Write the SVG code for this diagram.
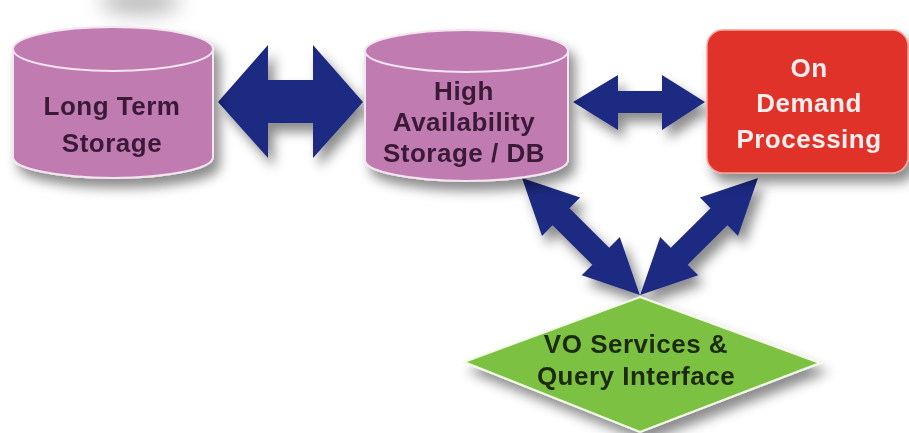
<svg xmlns="http://www.w3.org/2000/svg" width="909" height="433" viewBox="0 0 909 433">
  <defs>
    <filter id="sh" x="-20%" y="-20%" width="150%" height="160%">
      <feDropShadow dx="6" dy="9" stdDeviation="6" flood-color="#000" flood-opacity="0.45"/>
    </filter>
    <filter id="blur" x="-50%" y="-50%" width="200%" height="200%">
      <feGaussianBlur stdDeviation="10"/>
    </filter>
  </defs>
  <style>
    .cyl { fill: #c07cb1; stroke: #f4e4f0; stroke-width: 2; }
    .lbl { font-family: "Liberation Sans", Arial, sans-serif; font-weight: 700; font-size: 26px; letter-spacing: 0.5px; text-anchor: middle; }
    .dark { fill: #3b1a38; }
    .light { fill: #fbeeee; }
    .green-text { fill: #1c2a10; }
    .arrow { fill: #1f2a82; }
  </style>
  <rect width="909" height="433" fill="#ffffff"/>
  <ellipse cx="140" cy="2" rx="40" ry="12" fill="#888" opacity="0.6" filter="url(#blur)"/>

  <g id="connectors">
    <g filter="url(#sh)">
      <polygon class="arrow" points="218,102 268,45 268,80 313,80 313,45 363,102 313,158 313,123 268,123 268,158"/>
      <polygon class="arrow" points="573,102 618,75 618,91 662,91 662,75 705,102 662,130 662,113 618,113 618,130"/>
      <polygon class="arrow" transform="translate(522,178) rotate(44.8)" points="0,0 55,-27 55,-12 111,-12 111,-27 166,0 111,27 111,12 55,12 55,27"/>
      <polygon class="arrow" transform="translate(758,178) rotate(135.2)" points="0,0 55,-27 55,-12 111,-12 111,-27 166,0 111,27 111,12 55,12 55,27"/>
    </g>
  </g>

  <g id="long-term-storage">
    <g filter="url(#sh)">
      <path class="cyl" d="M13,49 L13,157 A100,21 0 0 0 213,157 L213,49 Z"/>
      <ellipse class="cyl" cx="113" cy="49" rx="100" ry="22"/>
    </g>
    <text class="lbl dark" x="112" y="115">Long Term</text>
    <text class="lbl dark" x="112" y="152">Storage</text>
  </g>

  <g id="high-availability-storage">
    <g filter="url(#sh)">
      <path class="cyl" d="M365,51 L365,160 A101.5,21 0 0 0 568,160 L568,51 Z"/>
      <ellipse class="cyl" cx="466.5" cy="51" rx="101.5" ry="21"/>
    </g>
    <text class="lbl dark" x="464" y="100">High</text>
    <text class="lbl dark" x="464" y="131">Availability</text>
    <text class="lbl dark" x="464" y="162">Storage / DB</text>
  </g>

  <g id="on-demand-processing">
    <rect x="707" y="30" width="201" height="143" rx="16" fill="#e1332b" stroke="#f2a49c" stroke-width="1.5" filter="url(#sh)"/>
    <text class="lbl light" x="809" y="77">On</text>
    <text class="lbl light" x="809" y="112">Demand</text>
    <text class="lbl light" x="809" y="148">Processing</text>
  </g>

  <g id="vo-services">
    <polygon points="640,297 820,363 640,432 464,362" fill="#7dc143" stroke="#f3fbe9" stroke-width="2" filter="url(#sh)"/>
    <text class="lbl green-text" x="636" y="353">VO Services &amp;</text>
    <text class="lbl green-text" x="636" y="385">Query Interface</text>
  </g>
</svg>
